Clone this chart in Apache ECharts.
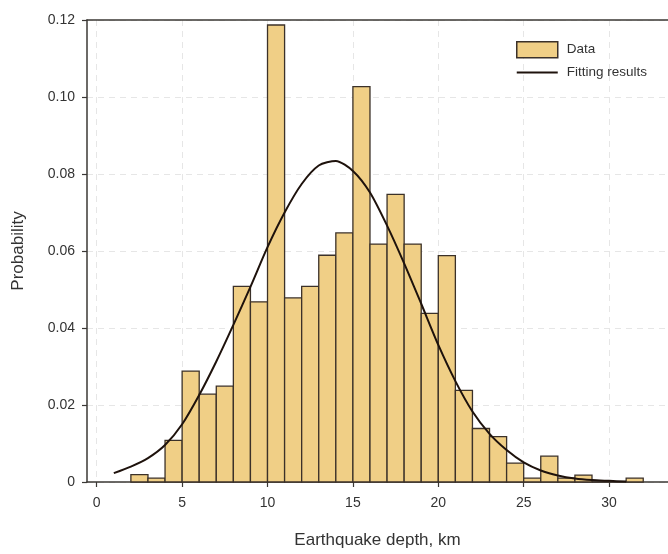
<!DOCTYPE html>
<html>
<head>
<meta charset="utf-8">
<script src="https://cdn.jsdelivr.net/npm/echarts@6/dist/echarts.min.js"></script>
<style>
html,body{margin:0;padding:0;background:#fff;}
#chart{width:668px;height:554px;}
</style>
</head>
<body>
<div id="chart"></div>
<script>
// Histogram bins (km) and probabilities
var binStarts = [2,3,4,5,6,7,8,9,10,11,12,13,14,15,16,17,18,19,20,21,22,23,24,25,26,27,28,29,30,31];
var binWidth = 1;
var probabilities = [0.0019,0.001,0.0108,0.0288,0.0228,0.0249,0.0508,0.0468,0.1187,0.0478,0.0508,0.0589,0.0647,0.1027,0.0618,0.0747,0.0618,0.0438,0.0588,0.0238,0.0139,0.0118,0.0049,0.001,0.0067,0.001,0.0018,0,0,0.001];
// Fitted curve
var fitX = [1,2,3,4,5,6,7,8,9,10,11,12,13,14,15,16,17,18,19,20,21,22,23,24,25,26,27,28,29,30,31];
var fitY = [0.0023,0.0040,0.0062,0.0096,0.0150,0.0226,0.0313,0.0408,0.0507,0.0610,0.0700,0.0774,0.0822,0.0834,0.0808,0.0752,0.0666,0.0568,0.0463,0.0356,0.0262,0.0183,0.0125,0.0083,0.0051,0.0030,0.0017,0.0009,0.0005,0.0003,0.0001];
var xTicks = [0,5,10,15,20,25,30];
var seriesNames = ['Data','Fitting results'];
var xName = 'Earthquake depth, km';
var yName = 'Probability';

var barData = binStarts.map(function(s,i){ return [s, s+binWidth, probabilities[i]]; });
var lineData = fitX.map(function(x,i){ return [x, fitY[i]]; });

var barFill = '#F0CF86';
var barBorder = '#3b3129';
var axisColor = '#3b3835';
var textColor = '#333';
var font = 'Liberation Sans, Arial, sans-serif';

var chart = echarts.init(document.getElementById('chart'), null, {renderer:'canvas'});
chart.setOption({
  animation:false,
  backgroundColor:'#fff',
  textStyle:{fontFamily:font},
  grid:{left:87, right:0, top:20, bottom:65, containLabel:false},
  legend:{
    left:516, top:41, padding:0, orient:'vertical', itemWidth:41, itemHeight:16, itemGap:7,
    textStyle:{fontSize:13.5, color:textColor, fontFamily:font, padding:[0,0,0,4]},
    data:[
      {name:seriesNames[0], icon:'rect', itemStyle:{color:barFill, borderColor:barBorder, borderWidth:1.5}},
      {name:seriesNames[1], icon:'path://M0,0 L41,0 L41,2 L0,2 Z', itemStyle:{color:'#1e120c', borderWidth:0}}
    ]
  },
  xAxis:[{
    type:'value', min:-0.57, max:33.45,
    name:xName, nameLocation:'middle', nameGap:50,
    nameTextStyle:{fontSize:17, color:textColor, fontFamily:font},
    axisLine:{show:true, onZero:false, lineStyle:{color:axisColor, width:1.5}},
    axisTick:{show:true, customValues:xTicks, length:5, lineStyle:{color:axisColor, width:1.2}},
    axisLabel:{customValues:xTicks, fontSize:14, color:textColor, margin:14, fontFamily:font},
    splitLine:{show:true, lineStyle:{color:'#e6e6e6', type:[6,5], width:1}}
  },{
    type:'value', position:'top', min:-0.57, max:33.45,
    axisLine:{show:true, onZero:false, lineStyle:{color:axisColor, width:1.5}},
    axisTick:{show:false}, axisLabel:{show:false}, splitLine:{show:false}
  }],
  yAxis:{
    type:'value', min:0, max:0.12, interval:0.02,
    name:yName, nameLocation:'middle', nameGap:60, nameRotate:90,
    nameTextStyle:{fontSize:17, color:textColor, fontFamily:font},
    axisLine:{show:true, onZero:false, lineStyle:{color:axisColor, width:1.5}},
    axisTick:{show:true, length:5, lineStyle:{color:axisColor, width:1.2}},
    axisLabel:{fontSize:14, color:textColor, margin:12, fontFamily:font,
      formatter:function(v){ return v===0 ? '0' : v.toFixed(2); }},
    splitLine:{show:true, lineStyle:{color:'#e6e6e6', type:[6,5], width:1}}
  },
  series:[{
    name:seriesNames[0], type:'custom', xAxisIndex:0,
    encode:{x:[0,1], y:2},
    data:barData,
    renderItem:function(params, api){
      var p0 = api.coord([api.value(0), 0]);
      var p1 = api.coord([api.value(1), api.value(2)]);
      return {
        type:'rect',
        shape:{x:p0[0], y:p1[1], width:p1[0]-p0[0], height:p0[1]-p1[1]},
        style:{fill:barFill, stroke:barBorder, lineWidth:1.3}
      };
    }
  },{
    name:seriesNames[1], type:'line', xAxisIndex:0,
    data:lineData, smooth:0.25, symbol:'none',
    lineStyle:{color:'#1e120c', width:2},
    itemStyle:{color:'#1e120c'},
    z:3
  }]
});
</script>
</body>
</html>
